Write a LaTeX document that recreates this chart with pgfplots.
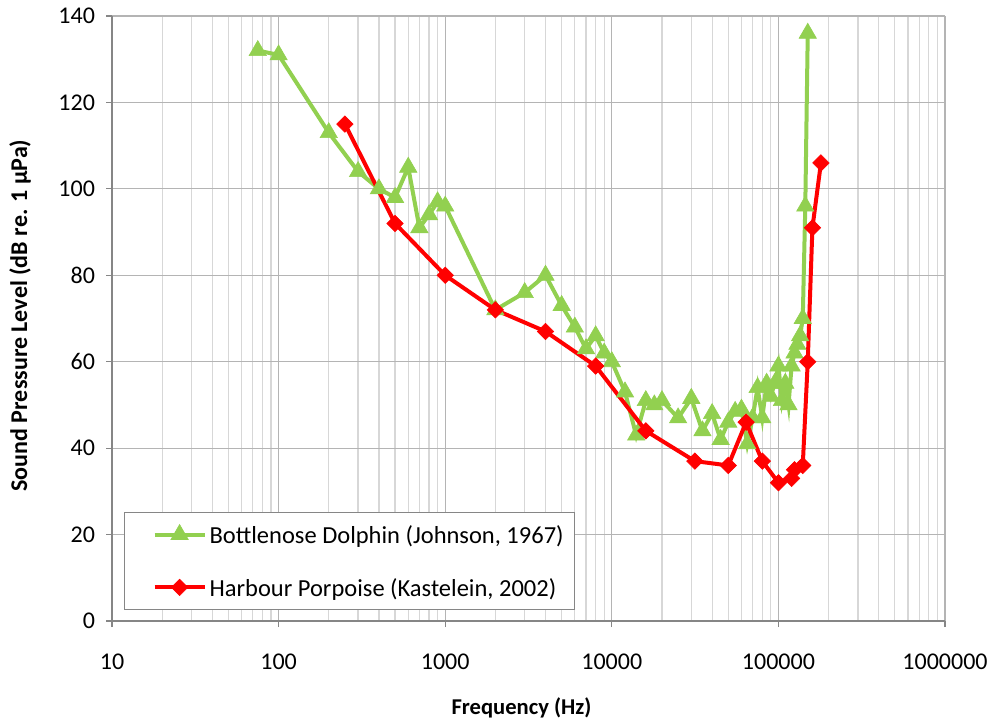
\documentclass[border=0pt]{standalone}
\usepackage{fontspec}
\setmainfont{Carlito}
\usepackage{pgfplots}
\pgfplotsset{compat=1.18}
\definecolor{dgreen}{RGB}{146,208,80}
\definecolor{hred}{RGB}{255,0,0}
\definecolor{axgray}{RGB}{134,134,134}
\definecolor{majgray}{RGB}{180,180,180}
\definecolor{mingray}{RGB}{215,215,215}

\pgfplotstableread{
f spl
75 132
100 131
200 113
300 104
400 100
500 98
600 105
700 91
800 94
900 97
1000 96
2000 72
3000 76
4000 80
5000 73
6000 68
7000 63
8000 66
9000 62
10000 60
12000 53
14000 43
16000 51
18000 50
20000 51
25000 47
30000 51.5
35000 44
40000 48
45000 42
50000 46
55000 48.5
60000 49
65000 41
70000 47
75000 54
80000 47
85000 55
90000 52
95000 55
100000 59
105000 51
110000 55
115000 50
120000 59
125000 62
130000 64
135000 66
140000 70
145000 96
150000 136
}\dolphin

\pgfplotstableread{
f spl
250 115
500 92
1000 80
2000 72
4000 67
8000 59
16000 44
31500 37
50000 36
64000 46
80000 37
100000 32
120000 33
125000 35
140000 36
150000 60
160000 91
180000 106
}\porpoise

\begin{document}
\begin{tikzpicture}
\begin{axis}[
  scale only axis, width=416.5pt, height=302.5pt,
  xmode=log, xmin=10, xmax=1000000, ymin=0, ymax=140,
  ytick={0,20,40,60,80,100,120,140},
  xtick={10,100,1000,10000,100000,1000000},
  xticklabels={10,100,1000,10000,100000,1000000},
  minor xtick={20,30,40,50,60,70,80,90,200,300,400,500,600,700,800,900,2000,3000,4000,5000,6000,7000,8000,9000,20000,30000,40000,50000,60000,70000,80000,90000,200000,300000,400000,500000,600000,700000,800000,900000},
  /pgf/number format/assume math mode=true,
  tick label style={font=\fontsize{12}{14}\selectfont, text=black},
  grid=both,
  major grid style={majgray, line width=0.6pt},
  minor grid style={mingray, line width=0.6pt},
  axis lines=left,
  axis line style={-, axgray, line width=0.6pt},
  tick align=outside,
  major tick length=3pt,
  minor tick length=0pt,
  tick style={axgray, line width=0.6pt},
  xticklabel style={anchor=base, yshift=-21pt},
  yticklabel style={anchor=east, xshift=-2pt},
  xlabel={\textbf{Frequency (Hz)}},
  ylabel={\textbf{Sound Pressure Level (dB re. 1 µPa)}},
  xlabel style={font=\fontsize{11.3}{13}\selectfont, at={(axis description cs:0.4916,-0.1438)}, anchor=center},
  ylabel style={font=\fontsize{12}{14}\selectfont, at={(axis description cs:-0.1104,0.505)}, anchor=center},
  legend style={at={(0.0144,0.0182)}, anchor=south west, draw=axgray, line width=0.6pt,
    font=\fontsize{12.25}{14}\selectfont, inner xsep=4pt, inner ysep=4.5pt, row sep=13.5pt,
    nodes={text depth=0pt, inner xsep=1.5pt},
    legend cell align=left},
  legend image code/.code={\path[draw=none] (-11pt,0pt) -- (0pt,0pt);
    \draw[mark repeat=2, mark phase=2, #1] plot coordinates {(0pt,0pt) (12.5pt,0pt) (25pt,0pt)};},
]
\addplot[dgreen, line width=2pt, mark=triangle*, mark size=5pt, mark options={solid, line width=0.3pt, fill=dgreen}]
  table[x=f, y=spl] {\dolphin};
\addlegendentry{Bottlenose Dolphin (Johnson, 1967)}
\addplot[hred, line width=2pt, mark=square*, mark size=2.9pt, mark options={solid, rotate=45, line width=0.3pt, fill=hred}]
  table[x=f, y=spl] {\porpoise};
\addlegendentry{Harbour Porpoise (Kastelein, 2002)}
\end{axis}
\pgfresetboundingbox
\path[use as bounding box] (-56pt,-52pt) rectangle (441pt,310.5pt);
\end{tikzpicture}
\end{document}
